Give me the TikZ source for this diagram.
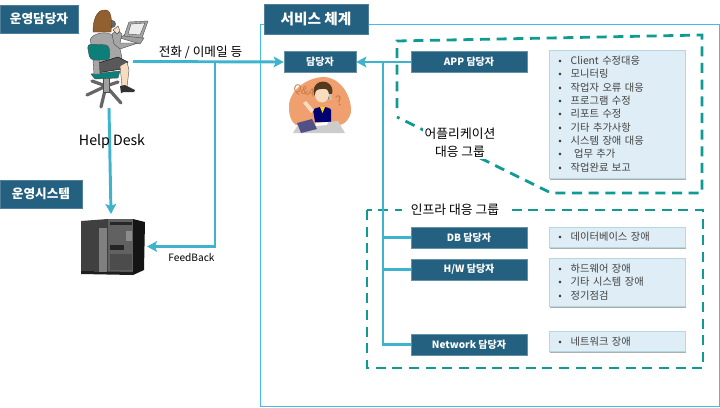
\documentclass[tikz,border=0pt]{standalone}
\usepackage{fontspec}
\setmainfont{Noto Sans CJK KR}
\usetikzlibrary{positioning,arrows.meta,shadows,calc}
\definecolor{boxBlue}{HTML}{24607F}
\definecolor{taskFill}{HTML}{DFEEF6}
\definecolor{taskEdge}{HTML}{B4D8E2}
\definecolor{flowBlue}{HTML}{3FB3CE}
\definecolor{frameBlue}{HTML}{45BBE8}
\definecolor{groupTeal}{HTML}{0F9B94}
\definecolor{chairTeal}{HTML}{0B7F78}
\definecolor{blobOrange}{HTML}{EFA06E}
\definecolor{markOrange}{HTML}{C9773F}
\definecolor{skinTone}{HTML}{F8DCC0}
\newcommand{\taskline}[1]{\makebox[9.3pt][l]{\textbullet}#1\\}
\tikzset{
  titlebox/.style={fill=boxBlue, draw=boxBlue!80!white, line width=0.4pt, text=white, inner sep=0pt,
    font=\fontsize{9.5}{11}\selectfont\bfseries},
  rolebox/.style={fill=boxBlue, draw=boxBlue!70!white, line width=0.4pt, text=white, inner sep=0pt,
    minimum width=87pt, minimum height=15.5pt, font=\fontsize{7.5}{9}\selectfont\bfseries},
  taskbox/.style={fill=taskFill, draw=taskEdge, line width=0.6pt, text=black!75, inner xsep=7pt, inner ysep=0pt,
    text width=88pt, minimum width=102pt, align=left, font=\fontsize{7.7}{10}\selectfont,
    drop shadow={shadow xshift=0.4pt, shadow yshift=-1.2pt, opacity=0.45, fill=black!70}},
  flow/.style={draw=flowBlue, line width=2.2pt},
  flowtip/.style={flow, -{Stealth[length=7.5pt,width=8pt,inset=1.5pt]}},
  groupline/.style={draw=groupTeal, line width=2.1pt, dash pattern=on 7.5pt off 5pt},
  grouptext/.style={fill=white, inner sep=1pt, align=center, font=\fontsize{9.6}{13.5}\selectfont},
  flowtext/.style={inner sep=0pt, text=black},
  figline/.style={draw=black!70, line width=0.3pt}
}
\begin{document}
\begin{tikzpicture}[x=0.75pt, y=-0.75pt]
\useasboundingbox (0,0) rectangle (720,407);
\fill[white] (0,0) rectangle (720,407);

\draw[frameBlue, line width=0.7pt] (260,24) rectangle (719,406);

\draw[groupline] (397,108) -- (397,41) -- (702,35) -- (702,193) -- (551,193) -- (397,117);
\draw[groupline] (367,210) rectangle (703,368);
\node[grouptext] (appGroup) at (460,143) {어플리케이션\\대응 그룹};
\node[grouptext, inner xsep=7pt] (infraGroup) at (455,210) {인프라 대응 그룹};

\node[titlebox, minimum width=58.5pt, minimum height=21pt] (opsTitle) at (39,19) {운영담당자};
\node[titlebox, minimum width=61.5pt, minimum height=21pt] (sysTitle) at (41,194) {운영시스템};
\node[titlebox, minimum width=78pt, minimum height=22.5pt, font=\fontsize{11}{13}\selectfont\bfseries] (svcTitle) at (316,19) {서비스 체계};

\node[rolebox, minimum width=54pt] (desk) at (320,62) {담당자};
\node[rolebox] (appRole) at (469,62) {APP 담당자};
\node[rolebox] (dbRole) at (469,237.5) {DB 담당자};
\node[rolebox] (hwRole) at (469,269.5) {H/W 담당자};
\node[rolebox] (netRole) at (469,344.5) {Network 담당자};

\node[taskbox, minimum height=96pt] (appTask) at (617,114) {%
\taskline{Client 수정대응}\taskline{모니터링}\taskline{작업자 오류 대응}\taskline{프로그램 수정}%
\taskline{리포트 수정}\taskline{기타 추가사항}\taskline{시스템 장애 대응}\taskline{\ 업무 추가}\taskline{작업완료 보고}};
\node[taskbox, minimum height=15pt] (dbTask) at (617,237) {\taskline{데이터베이스 장애}};
\node[taskbox, minimum height=36pt] (hwTask) at (617,282) {%
\taskline{하드웨어 장애}\taskline{기타 시스템 장애}\taskline{정기점검}};
\node[taskbox, minimum height=15.5pt] (netTask) at (617,341.5) {\taskline{네트워크 장애}};

% operator at the laptop
\fill[gray!75, figline] (120,38) -- (140,44) -- (144,38) -- (124,35) -- cycle;
\fill[gray!70, figline] (124,36) -- (129,22) -- (148,21) -- (142,38) -- cycle;
\fill[white!85!gray, figline] (128,34) -- (131,24) -- (145,23) -- (140,35) -- cycle;
\fill[gray!70, figline] (90,40) .. controls (92,33) and (108,30) .. (113,36) -- (118,40) -- (122,58) -- (112,66) -- (97,66) -- cycle;
\fill[gray!70, figline] (112,34) -- (117,30) -- (122,34) -- (120,43) -- (138,43) -- (120,49) -- (114,44) -- cycle;
\fill[skinTone, figline] (113,30) -- (118,26) -- (120,31) -- (117,34) -- cycle;
\fill[black!60] (112,24) circle (4);
\fill[brown!75!black, draw=brown!50!black, line width=0.3pt] (93,32) .. controls (93,14) and (100,9) .. (106,10) .. controls (112,11) and (112,22) .. (111,32) -- cycle;
\draw[gray!80!black, line width=2.4pt, line cap=round] (106,86) -- (87,95) (106,86) -- (101,107) (106,86) -- (121,103) (106,86) -- (92,81) (106,86) -- (118,82);
\fill[gray!75, figline] (103,76) rectangle (109,92);
\fill[black!65, draw=black, line width=0.3pt] (95,64) -- (118,57) -- (128,62) -- (122,69) -- (97,73) -- cycle;
\fill[chairTeal, figline] (91,74) -- (120,71) -- (118,78) -- (95,79) -- cycle;
\fill[gray!70, figline] (93,60) -- (99,60) -- (100,74) -- (94,74) -- cycle;
\fill[chairTeal, figline, rounded corners=3pt] (87,44) -- (109,45) -- (110,60) -- (90,60) -- cycle;
\fill[skinTone, figline] (120,66) -- (127,62) -- (129,70) -- (127,87) -- (122,86) -- cycle;
\fill[black!80] (120,86) -- (125,85) -- (135,90) -- (134,92) -- (124,92) -- (121,93) -- cycle;

% server cabinet
\fill[black!75] (81,221) -- (108,219) -- (108,272) -- (81,271) -- cycle;
\fill[black!62] (108,219) -- (133,219) -- (133,272) -- (108,272) -- cycle;
\fill[black!92] (133,219) -- (145,222) -- (144,270) -- (133,275) -- cycle;
\fill[black!88] (81,271) -- (133,272) -- (133,275) -- (81,274) -- cycle;
\fill[black!50] (99,228) rectangle (107,272);
\fill[black!85] (110,222) rectangle (132,225);
\fill[black!85] (110,245) rectangle (124,250);
\fill[black!45] (126,231) rectangle (132,241);
\fill[black!70] (110,254) rectangle (132,270);

% help desk agent
\fill[blobOrange] (289,108) .. controls (288,92) and (305,78) .. (323,77) .. controls (340,77) and (351,95) .. (351,110) .. controls (351,118) and (345,124) .. (340,125) -- (296,125) .. controls (291,122) and (289,115) .. (289,108) -- cycle;
\node[flowtext, text=markOrange, rotate=-15, font=\fontsize{8}{9}\selectfont] (qaMark) at (304,91) {Q\&A};
\node[flowtext, text=markOrange, rotate=15, font=\fontsize{10}{12}\selectfont] (askMark) at (339,101) {?};
\fill[blue!45!black] (313,110) .. controls (316,106) and (330,106) .. (331,110) -- (331,122) -- (315,122) -- cycle;
\fill[yellow!80!orange] (320,107) -- (325,107) -- (322.5,113) -- cycle;
\fill[skinTone] (303,103) -- (306,101) -- (314,110) -- (311,113) -- cycle;
\fill[black!55!brown] (323,91) circle (9.5);
\fill[skinTone] (322,95) ellipse (7 and 7.5);
\fill[black!55!brown] (315,91) .. controls (317,85) and (329,85) .. (331,91) .. controls (326,88) and (320,88) .. (315,91) -- cycle;
\fill[gray!50] (329,94) rectangle (332,100);
\fill[gray!40] (293,133) -- (298,125) -- (338,121) -- (345,133) -- cycle;
\fill[white] (316,123) -- (328,122) -- (327,125) -- (315,126) -- cycle;
\fill[blue!25!gray!85!black] (297,123) -- (312,119) -- (317,129) -- (301,133) -- cycle;

\coordinate (phoneOut) at (133,61.5);
\coordinate (feedTurn) at (215,61.5);
\coordinate (feedCorner) at (215,246.5);
\coordinate (serverIn) at (147,246.5);
\coordinate (chairOut) at (109,108);
\coordinate (serverTop) at (111,214);
\coordinate (trunkTop) at (383,62);

\draw[flowtip] (phoneOut) -- (desk.west);
\draw[flowtip] (feedTurn) -- (feedCorner) -- (serverIn);
\draw[flowtip] (chairOut) -- (serverTop);
\draw[flowtip] (appRole.west) -- (desk.east);
\draw[flow] (trunkTop) |- (netRole.west);
\draw[flow] (trunkTop |- dbRole.west) -- (dbRole.west);
\draw[flow] (trunkTop |- hwRole.west) -- (hwRole.west);

\node[flowtext, font=\fontsize{9.5}{11}\selectfont] (phoneLabel) at (200.5,52) {전화 / 이메일 등};
\node[flowtext, font=\fontsize{10.6}{12}\selectfont] (helpLabel) at (112,141) {Help Desk};
\node[flowtext, font=\fontsize{7.6}{9}\selectfont] (feedLabel) at (191.5,258) {FeedBack};
\end{tikzpicture}
\end{document}
